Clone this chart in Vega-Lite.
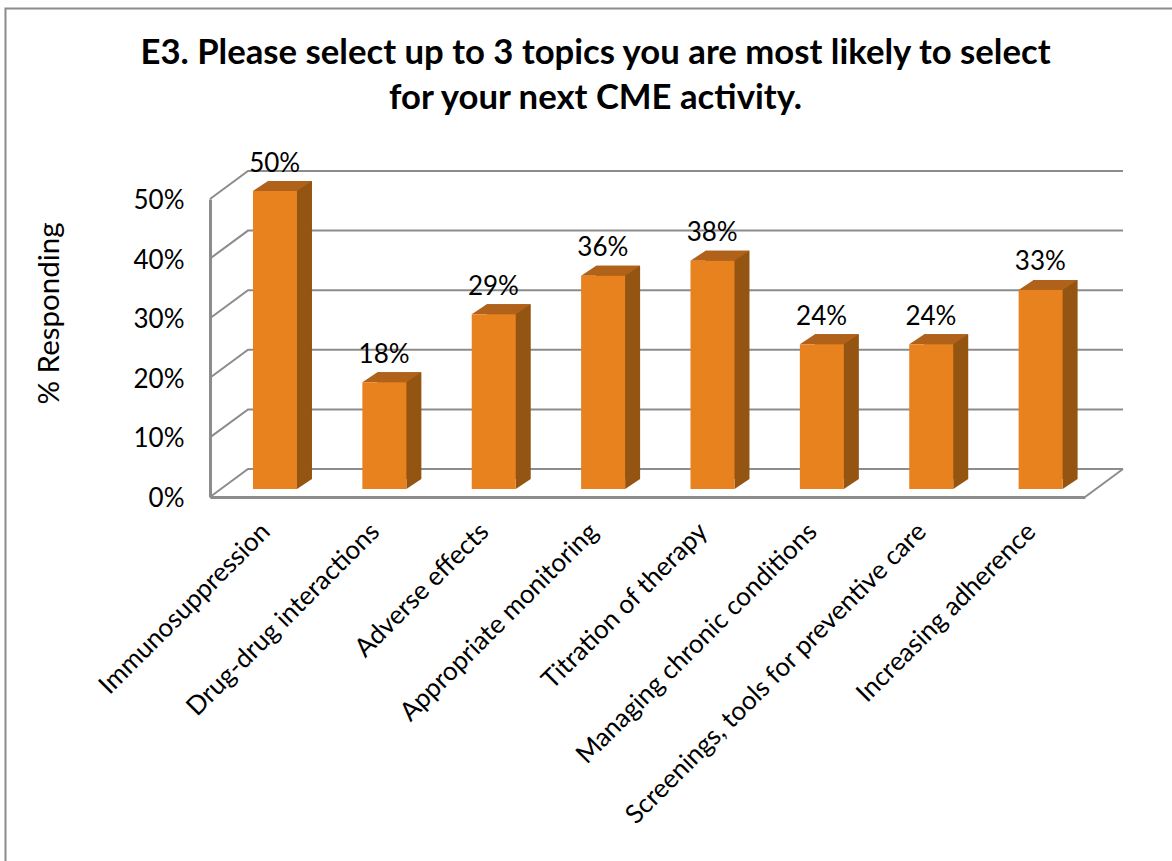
{
"$schema":"https://vega.github.io/schema/vega-lite/v6.json",
"autosize":{"type":"none"},
"padding":{"left":210,"top":199,"right":87,"bottom":364},
"width":875,"height":298,
"background":"white",
"title":{"text":["E3. Please select up to 3 topics you are most likely to select","for your next CME activity."],"font":"Lato","fontWeight":700,"fontSize":34.7,"lineHeight":45,"color":"#000000","anchor":"middle","dx":-52,"offset":0,"dy":112},
"config":{"view":{"stroke":null},"font":"Lato"},
"datasets":{"ticks":[{"v":0},{"v":0.1},{"v":0.2},{"v":0.3},{"v":0.4},{"v":0.5}]},
"data":{"values":[
{"topic":"Immunosuppression","value":0.50},
{"topic":"Drug-drug interactions","value":0.179},
{"topic":"Adverse effects","value":0.293},
{"topic":"Appropriate monitoring","value":0.358},
{"topic":"Titration of therapy","value":0.383},
{"topic":"Managing chronic conditions","value":0.243},
{"topic":"Screenings, tools for preventive care","value":0.243},
{"topic":"Increasing adherence","value":0.334}
]},
"encoding":{
"y":{"field":"value","type":"quantitative","scale":{"domain":[0,0.5],"nice":false},
"axis":{"title":"% Responding","titleFont":"Lato","titleFontWeight":400,"titleFontSize":29.5,"titleColor":"#000000","titlePadding":69,"titleY":114,"values":[0,0.1,0.2,0.3,0.4,0.5],"format":".0%","labelFontSize":26,"labelColor":"#000000","labelPadding":26,"labelOffset":1.5,"ticks":false,"grid":false,"domainColor":"#8c8c8c","domainWidth":3}}
},
"layer":[
{"data":{"name":"ticks"},
 "mark":{"type":"point","shape":"M-54.7 0L-16.7 -28L858.3 -28","size":4,"stroke":"#8c8c8c","strokeWidth":2,"fill":null,"opacity":1},
 "encoding":{"x":{"datum":"Immunosuppression","type":"nominal"},"y":{"field":"v","type":"quantitative"}}},
{"data":{"values":[{"v":0}]},
 "mark":{"type":"point","shape":"M54.7 0L92.7 -28","size":4,"stroke":"#8c8c8c","strokeWidth":2,"fill":null,"opacity":1},
 "encoding":{"x":{"datum":"Increasing adherence","type":"nominal"},"y":{"field":"v","type":"quantitative"}}},
{"data":{"values":[{"v":0.5}]},
 "mark":{"type":"point","shape":"M-259.2 662L-259.2 -190.5L908 -190.5","size":4,"stroke":"#8c8c8c","strokeWidth":2,"fill":null,"opacity":1},
 "encoding":{"x":{"datum":"Immunosuppression","type":"nominal"},"y":{"field":"v","type":"quantitative"}}},
{"mark":{"type":"bar","color":"#945512","size":44,"xOffset":25.3,"yOffset":-18},
 "encoding":{"x":{"field":"topic","type":"nominal","sort":null,
 "scale":{"paddingInner":0,"paddingOuter":0,"domain":["Immunosuppression","Drug-drug interactions","Adverse effects","Appropriate monitoring","Titration of therapy","Managing chronic conditions","Screenings, tools for preventive care","Increasing adherence"]},
 "axis":{"title":null,"labelAngle":-45,"labelAlign":"right","labelBaseline":"top","labelFontSize":26,"labelColor":"#000000","labelFont":"Lato","labelLimit":600,"labelOverlap":false,"labelPadding":21,"labelOffset":-8,"ticks":false,"domainColor":"#8c8c8c","domainWidth":3}}}},
{"mark":{"type":"point","shape":"M32.3 -8L47.3 -18L32.3 -18Z","size":4,"fill":"#945512","filled":true,"strokeWidth":0,"opacity":1},
 "encoding":{"x":{"field":"topic","type":"nominal"},"y":{"datum":0}}},
{"mark":{"type":"point","shape":"M-11.7 -8L3.3 -18L47.3 -18L32.3 -8Z","size":4,"fill":"#B0611A","filled":true,"strokeWidth":0,"opacity":1},
 "encoding":{"x":{"field":"topic","type":"nominal"}}},
{"mark":{"type":"bar","color":"#E8821F","size":44,"xOffset":10.3,"yOffset":-8},
 "encoding":{"x":{"field":"topic","type":"nominal"}}},
{"mark":{"type":"text","font":"Lato","fontSize":26,"color":"#000000","dx":10,"dy":-27.5,"baseline":"alphabetic"},
 "encoding":{"x":{"field":"topic","type":"nominal"},"text":{"field":"value","type":"quantitative","format":".0%"}}}
]
}
